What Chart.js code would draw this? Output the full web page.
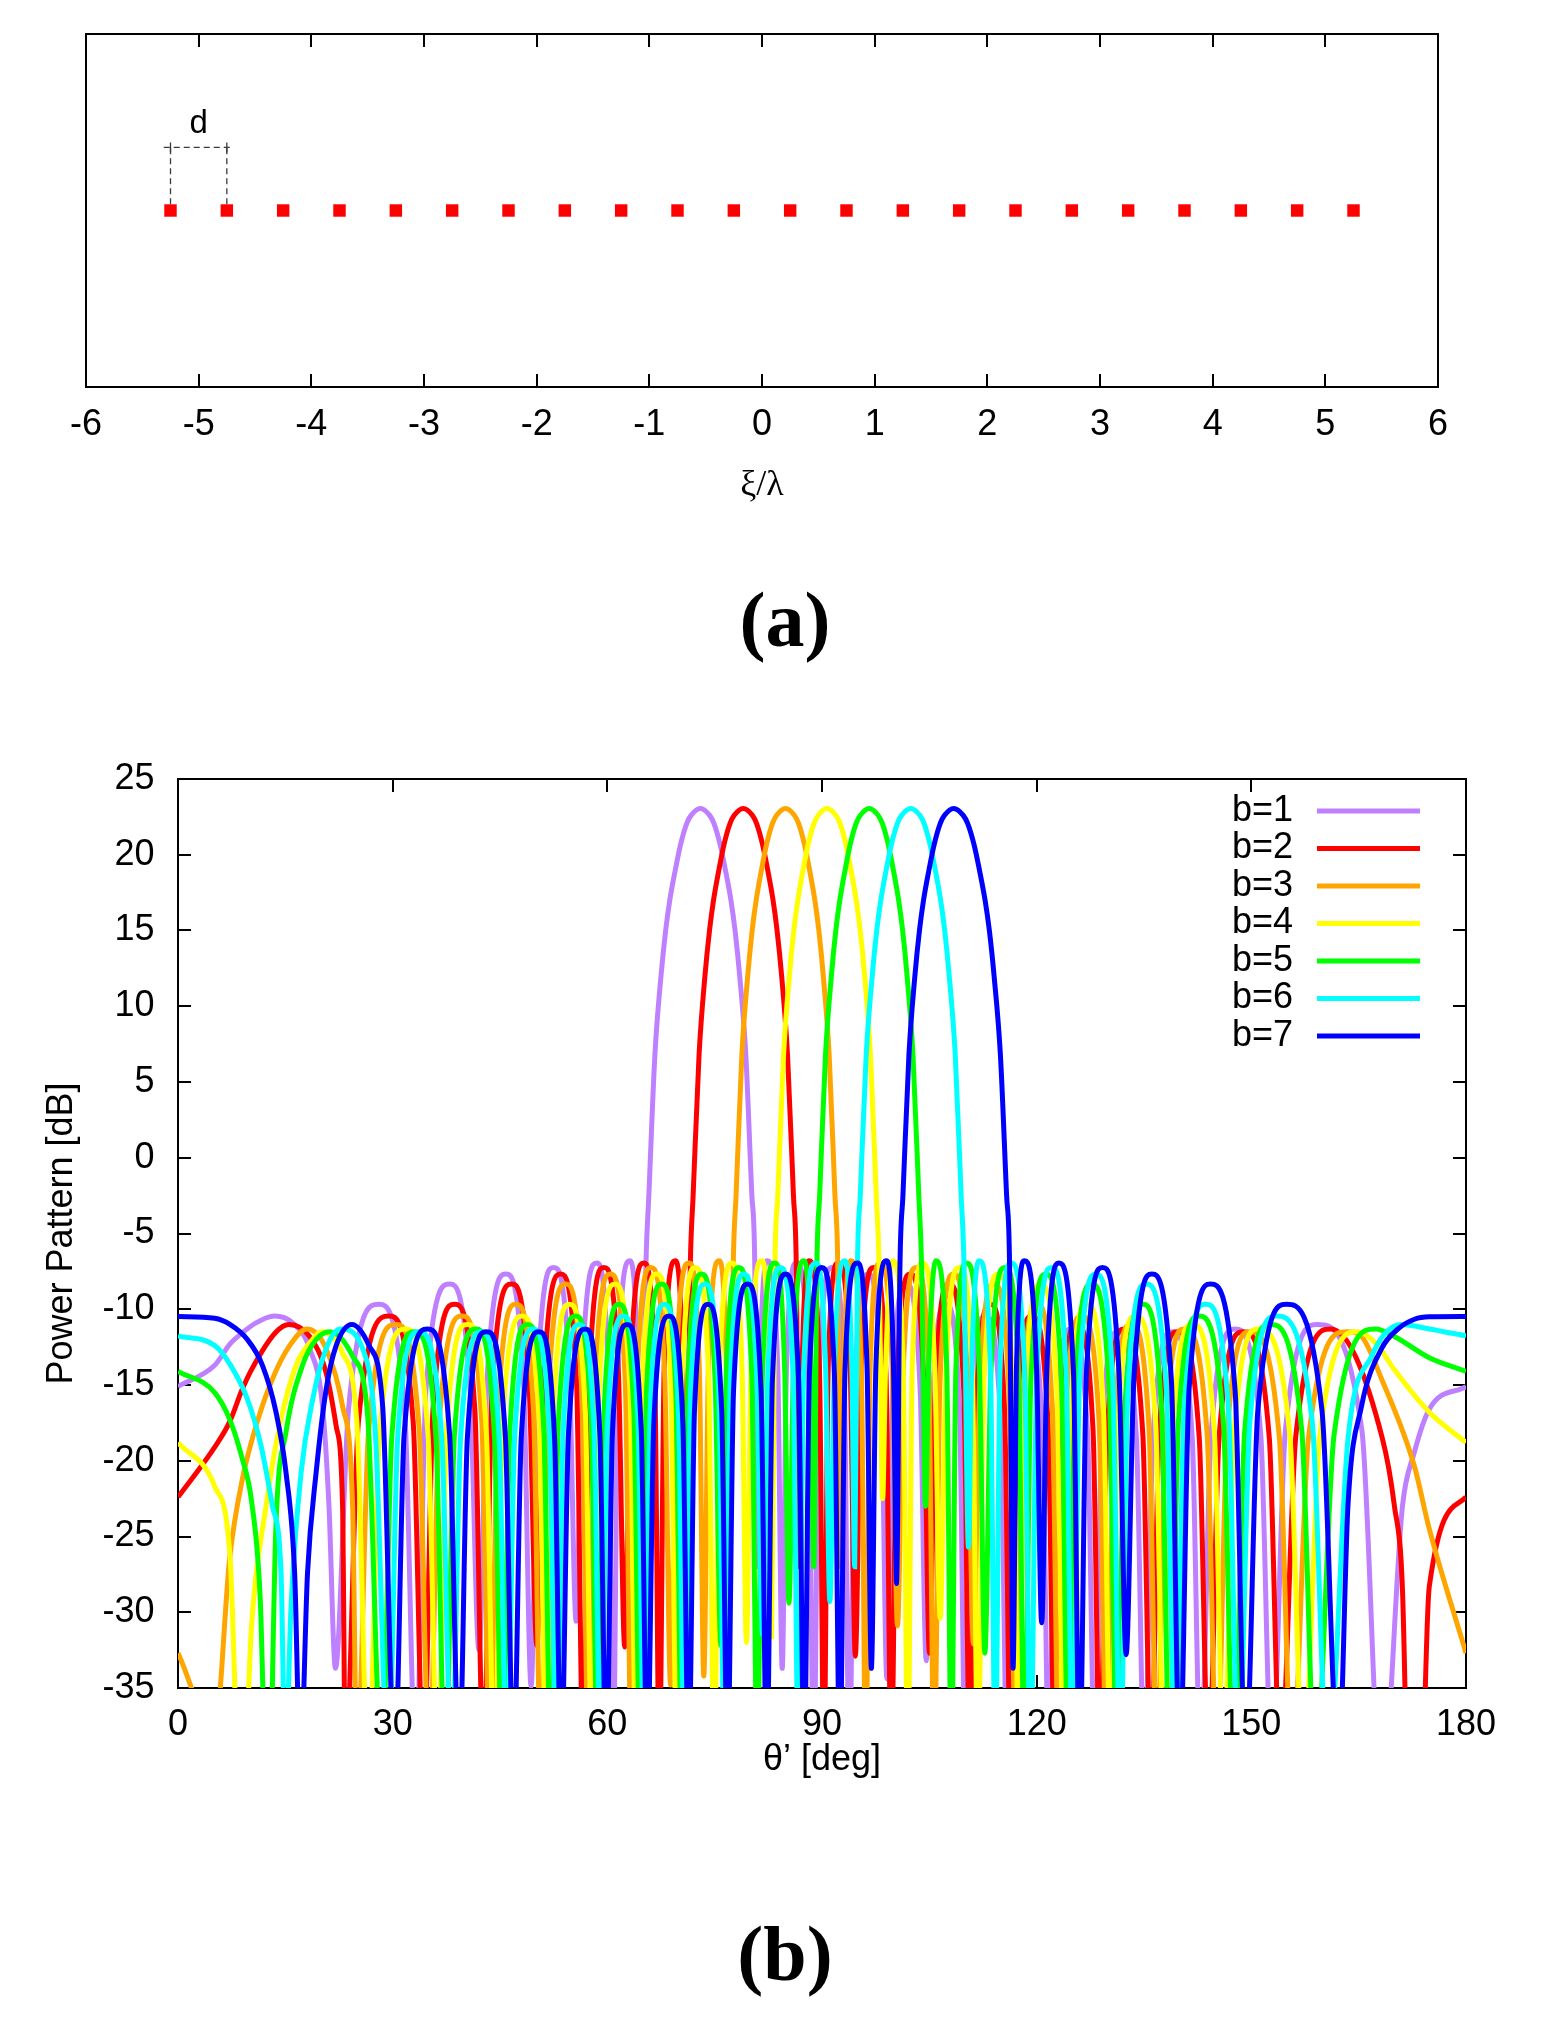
<!DOCTYPE html>
<html>
<head>
<meta charset="utf-8">
<title>Linear array and power patterns</title>
<script src="https://cdn.jsdelivr.net/npm/chart.js@4.4.1/dist/chart.umd.min.js"></script>
<style>
  html, body { margin: 0; padding: 0; background: #fff; }
  body { position: relative; width: 1552px; height: 2040px; overflow: hidden; }
  canvas { position: absolute; left: 0; }
  #arrayChart { top: 0; }
  #patternChart { top: 700px; }
  .panel-label {
    position: absolute; left: 9px; width: 1552px; height: 80px;
    text-align: center; color: #000;
    font-family: "Liberation Serif", "Times New Roman", serif;
    font-weight: bold; font-size: 78px; line-height: 80px;
  }
</style>
</head>
<body>
<canvas id="arrayChart" width="1552" height="560"></canvas>
<div class="panel-label" style="top:580px">(a)</div>
<canvas id="patternChart" width="1552" height="1120"></canvas>
<div class="panel-label" style="top:1914px">(b)</div>

<script>
// (a) element layout, in units of wavelength
const elementPositions = [-5.25, -4.75, -4.25, -3.75, -3.25, -2.75, -2.25, -1.75, -1.25, -0.75, -0.25,
                          0.25, 0.75, 1.25, 1.75, 2.25, 2.75, 3.25, 3.75, 4.25, 4.75, 5.25];
const elementRow = [0, 0, 0, 0, 0, 0, 0, 0, 0, 0, 0, 0, 0, 0, 0, 0, 0, 0, 0, 0, 0, 0];
const spacingEnds = [-5.25, -4.75];
const spacingArrow = [-5.31, -5.25, -4.75, -4.69];
const spacingHeight = [0.035, 0.3575];
const spacingLabel = ['d', -5.0, 0.49];
const xiTicks = [-6, 6, 1];

// (b) power patterns, [theta deg, dB]
const thetaTicks = [0, 180, 30];
const dbTicks = [-35, 25, 5];
const beamLabels = ['b=1', 'b=2', 'b=3', 'b=4', 'b=5', 'b=6', 'b=7'];
const beamColors = ['#bf80ff', '#ff0000', '#ffa500', '#ffff00', '#00ff00', '#00ffff', '#0000ff'];

const b1Pattern = [
  [0,-15.1],[5.13,-13.7],[7.25,-12.3],[8.88,-11.6],[10.9,-10.9],[13.49,-10.45],[16.0,-10.9],[18.4,-12.6],[20.2,-16.4],[21.1,-23.0],[22.0,-33.7],
  [23.82,-16.67],[28.06,-9.67],[31.68,-16.67],[33.23,-40],
  [34.65,-15.34],[37.95,-8.34],[40.83,-15.34],[42.06,-32.5],
  [43.19,-14.68],[45.82,-7.68],[48.29,-14.68],[49.35,-34.9],
  [50.29,-14.24],[52.49,-7.24],[54.70,-14.24],[55.64,-30.6],
  [56.50,-13.95],[58.51,-6.95],[60.11,-13.95],[60.80,-40],
  [61.51,-13.8],[63.16,-6.8],[64.24,-13.8],[64.70,-27],
  [65.4,-7],[65.8,-2.5],[66.65,6.8],[67.5,12.0],[68.15,15.0],[68.73,17.0],[69.5,19.0],[70.25,20.7],[71.1,22.07],[71.7,22.6],[73.0,23.06],
  [74.3,22.6],[74.9,22.07],[75.75,20.7],[76.5,19.0],[77.27,17.0],[77.85,15.0],[78.5,12.0],[79.35,6.8],[80.2,-2.5],[80.6,-7],
  [80.94,-27],
  [81.36,-13.8],[82.33,-6.8],[83.81,-13.8],[84.44,-33.7],
  [85.03,-13.95],[86.42,-6.95],[88.11,-13.95],[88.83,-40],
  [89.60,-14.24],[91.38,-7.24],[93.09,-14.24],[93.82,-40],
  [94.61,-14.68],[96.44,-7.68],[98.28,-14.68],[99.07,-34.4],
  [99.87,-15.34],[101.75,-8.34],[103.72,-15.34],[104.57,-33.2],
  [105.39,-16.67],[107.31,-9.67],[109.22,-16.67],[110.04,-40],
  [110.87,-17.45],[112.81,-10.45],[114.97,-17.45],[115.89,-40],
  [116.74,-18.0],[118.72,-11.0],[120.81,-18.0],[121.71,-40],
  [122.62,-18.3],[124.73,-11.3],[127.12,-18.3],[128.14,-40],
  [129.10,-18.48],[131.35,-11.48],[133.94,-18.48],[135.05,-40],
  [136.24,-18.48],[139.0,-11.48],[141.74,-18.48],[142.91,-40],
  [144.36,-18.3],[147.75,-11.3],[151.32,-18.3],[152.85,-40],
  [154.76,-18.0],[159.21,-11.0],[165.45,-18.0],[168.2,-42],
  [171.12,-23.0],[172.75,-19.5],[174.87,-16.6],[180,-15.1]
];

const b2Pattern = [
  [0,-22.4],[5.13,-19.1],[7.25,-17.4],[8.88,-15.4],[10.26,-14.0],[13.7,-11.5],[15.5,-11.0],[18.4,-11.8],[20.7,-14.2],[22.1,-17.7],[23.0,-23.0],[23.4,-40],
  [25.21,-17.45],[29.5,-10.45],[32.87,-17.45],[34.32,-40],
  [35.63,-16.67],[38.67,-9.67],[41.49,-16.67],[42.70,-40],
  [43.88,-15.34],[46.62,-8.34],[49.09,-15.34],[50.15,-32.2],
  [51.14,-14.68],[53.46,-7.68],[55.69,-14.68],[56.64,-40],
  [57.50,-14.24],[59.51,-7.24],[61.55,-14.24],[62.43,-32.3],
  [63.23,-13.95],[65.11,-6.95],[66.62,-13.95],[67.27,-40],
  [67.95,-13.8],[69.53,-6.8],[70.54,-13.8],[70.98,-27],
  [71.60,-7],[71.99,-2.5],[72.82,6.8],[73.64,12.0],[74.28,15.0],[74.84,17.0],[75.59,19.0],[76.32,20.7],[77.15,22.07],[77.73,22.6],[79.0,23.06],
  [80.27,22.6],[80.85,22.07],[81.68,20.7],[82.41,19.0],[83.16,17.0],[83.72,15.0],[84.36,12.0],[85.18,6.8],[86.01,-2.5],[86.40,-7],
  [86.81,-27],
  [87.22,-13.8],[88.18,-6.8],[89.64,-13.8],[90.27,-40],
  [90.86,-13.95],[92.25,-6.95],[93.94,-13.95],[94.66,-32.9],
  [95.43,-14.24],[97.22,-7.24],[98.94,-14.24],[99.68,-40],
  [100.48,-14.68],[102.34,-7.68],[104.22,-14.68],[105.02,-32.7],
  [105.85,-15.34],[107.77,-8.34],[109.81,-15.34],[110.68,-40],
  [111.54,-16.67],[113.53,-9.67],[115.52,-16.67],[116.37,-40],
  [117.25,-17.45],[119.29,-10.45],[121.58,-17.45],[122.56,-40],
  [123.48,-18.0],[125.61,-11.0],[127.88,-18.0],[128.85,-40],
  [129.84,-18.3],[132.16,-11.3],[134.84,-18.3],[135.99,-40],
  [137.09,-18.48],[139.66,-11.48],[142.72,-18.48],[144.03,-40],
  [145.49,-18.48],[148.90,-11.48],[152.51,-18.48],[154.06,-40],
  [156.23,-18.3],[161.1,-11.3],[168.3,-18.5],[170.0,-23.0],[171.12,-28.5],[172.75,-60],[174.87,-28.3],[180,-22.4]
];

const b3Pattern = [
  [0,-32.7],[5.13,-37.8],[7.25,-26.3],[9.0,-21.2],[10.9,-17.7],[13.2,-14.6],[15.6,-12.4],[18.03,-11.3],[20.7,-12.6],[23.0,-16.4],[24.4,-23.0],[25.0,-40],
  [26.64,-18.0],[30.46,-11.0],[33.72,-18.0],[35.12,-40],
  [36.51,-17.45],[39.74,-10.45],[42.46,-17.45],[43.62,-40],
  [44.71,-16.67],[47.24,-9.67],[49.68,-16.67],[50.73,-40],
  [51.77,-15.34],[54.20,-8.34],[56.43,-15.34],[57.39,-40],
  [58.30,-14.68],[60.43,-7.68],[62.50,-14.68],[63.39,-40],
  [64.20,-14.24],[66.08,-7.24],[68.01,-14.24],[68.84,-34.8],
  [69.61,-13.95],[71.40,-6.95],[72.86,-13.95],[73.48,-34.2],
  [74.13,-13.8],[75.65,-6.8],[76.64,-13.8],[77.06,-27],
  [77.60,-7],[77.99,-2.5],[78.80,6.8],[79.62,12.0],[80.24,15.0],[80.80,17.0],[81.54,19.0],[82.26,20.7],[83.08,22.07],[83.65,22.6],[84.9,23.06],
  [86.15,22.6],[86.72,22.07],[87.54,20.7],[88.26,19.0],[89.00,17.0],[89.56,15.0],[90.18,12.0],[91.00,6.8],[91.81,-2.5],[92.20,-7],
  [92.64,-27],
  [93.05,-13.8],[94.02,-6.8],[95.49,-13.8],[96.12,-40],
  [96.72,-13.95],[98.11,-6.95],[99.82,-13.95],[100.55,-30.9],
  [101.33,-14.24],[103.16,-7.24],[104.92,-14.24],[105.67,-40],
  [106.49,-14.68],[108.40,-7.68],[110.34,-14.68],[111.17,-32.1],
  [112.03,-15.34],[114.02,-8.34],[116.15,-15.34],[117.07,-40],
  [117.97,-16.67],[120.07,-9.67],[122.19,-16.67],[123.10,-40],
  [124.04,-17.45],[126.24,-10.45],[128.73,-17.45],[129.80,-40],
  [130.81,-18.0],[133.17,-11.0],[135.72,-18.0],[136.82,-40],
  [137.97,-18.3],[140.64,-11.3],[143.83,-18.3],[145.20,-40],
  [146.58,-18.48],[149.79,-11.48],[153.92,-18.48],[155.69,-40],
  [157.99,-18.48],[163.36,-11.48],[165.4,-11.8],[168.2,-14.6],[172.75,-20.3],[174.87,-24.5],[180,-32.7]
];

const b4Pattern = [
  [0,-18.8],[5.13,-21.7],[7.25,-26.2],[8.88,-45],[10.26,-31],[12.3,-23.0],[14.2,-17.7],[16.5,-13.7],[18.8,-12.0],[20.0,-11.48],[23.0,-12.9],[25.0,-17.5],[26.6,-40],
  [28.16,-18.3],[31.79,-11.3],[34.95,-18.3],[36.30,-40],
  [37.55,-18.0],[40.46,-11.0],[43.08,-18.0],[44.21,-40],
  [45.38,-17.45],[48.10,-10.45],[50.47,-17.45],[51.48,-40],
  [52.45,-16.67],[54.70,-9.67],[56.92,-16.67],[57.87,-40],
  [58.83,-15.34],[61.07,-8.34],[63.15,-15.34],[64.04,-40],
  [64.90,-14.68],[66.90,-7.68],[68.87,-14.68],[69.71,-40],
  [70.48,-14.24],[72.28,-7.24],[74.14,-14.24],[74.94,-40],
  [75.68,-13.95],[77.42,-6.95],[78.83,-13.95],[79.44,-32.0],
  [80.08,-13.8],[81.56,-6.8],[82.53,-13.8],[82.95,-31.6],
  [83.43,-7],[83.82,-2.5],[84.63,6.8],[85.44,12.0],[86.06,15.0],[86.62,17.0],[87.35,19.0],[88.07,20.7],[88.88,22.07],[89.46,22.6],[90.7,23.06],
  [91.94,22.6],[92.52,22.07],[93.33,20.7],[94.05,19.0],[94.78,17.0],[95.34,15.0],[95.96,12.0],[96.77,6.8],[97.58,-2.5],[97.97,-7],
  [98.47,-22.5],
  [98.89,-13.8],[99.86,-6.8],[101.35,-13.8],[101.99,-40],
  [102.60,-13.95],[104.02,-6.95],[105.76,-13.95],[106.51,-30.4],
  [107.31,-14.24],[109.19,-7.24],[111.01,-14.24],[111.79,-40],
  [112.64,-14.68],[114.63,-7.68],[116.66,-14.68],[117.53,-40],
  [118.44,-15.34],[120.55,-8.34],[122.82,-15.34],[123.79,-40],
  [124.76,-16.67],[127.03,-9.67],[129.34,-16.67],[130.33,-40],
  [131.37,-17.45],[133.81,-10.45],[136.62,-17.45],[137.83,-40],
  [139.01,-18.0],[141.75,-11.0],[144.82,-18.0],[146.13,-40],
  [147.58,-18.3],[150.97,-11.3],[155.38,-18.3],[157.27,-40],
  [159.54,-18.48],[164.84,-11.48],[167.5,-12.3],[170.0,-14.0],[174.87,-16.8],[180,-18.8]
];

const b5Pattern = [
  [0,-14.1],[5.13,-15.5],[7.25,-17.3],[8.88,-19.7],[10.26,-22.6],[11.48,-29.0],[12.57,-45],[13.7,-24.1],[15.1,-18.1],[17.4,-13.7],[19.3,-12.0],[21.18,-11.48],[24.4,-13.1],[26.5,-17.0],[28.5,-40],
  [29.87,-18.48],[33.06,-11.48],[36.05,-18.48],[37.33,-40],
  [38.63,-18.3],[41.65,-11.3],[44.22,-18.3],[45.32,-40],
  [46.38,-18.0],[48.84,-11.0],[51.13,-18.0],[52.11,-40],
  [53.15,-17.45],[55.59,-10.45],[57.74,-17.45],[58.66,-40],
  [59.55,-16.67],[61.63,-9.67],[63.70,-16.67],[64.59,-40],
  [65.49,-15.34],[67.60,-8.34],[69.57,-15.34],[70.42,-40],
  [71.25,-14.68],[73.17,-7.68],[75.06,-14.68],[75.87,-32.2],
  [76.62,-14.24],[78.37,-7.24],[80.18,-14.24],[80.96,-40],
  [81.69,-13.95],[83.39,-6.95],[84.78,-13.95],[85.38,-29.4],
  [86.01,-13.8],[87.47,-6.8],[88.44,-13.8],[88.85,-27],
  [89.29,-7],[89.67,-2.5],[90.49,6.8],[91.31,12.0],[91.93,15.0],[92.49,17.0],[93.23,19.0],[93.95,20.7],[94.77,22.07],[95.35,22.6],[96.6,23.06],
  [97.85,22.6],[98.43,22.07],[99.25,20.7],[99.97,19.0],[100.71,17.0],[101.27,15.0],[101.89,12.0],[102.71,6.8],[103.53,-2.5],[103.91,-7],
  [104.47,-23.0],
  [104.90,-13.8],[105.90,-6.8],[107.43,-13.8],[108.08,-40],
  [108.71,-13.95],[110.18,-6.95],[111.99,-13.95],[112.76,-32.7],
  [113.60,-14.24],[115.56,-7.24],[117.47,-14.24],[118.29,-40],
  [119.19,-14.68],[121.29,-7.68],[123.47,-14.68],[124.40,-40],
  [125.38,-15.34],[127.66,-8.34],[130.15,-15.34],[131.22,-40],
  [132.30,-16.67],[134.83,-9.67],[137.46,-16.67],[138.59,-40],
  [139.81,-17.45],[142.65,-10.45],[146.09,-17.45],[147.56,-40],
  [149.08,-18.0],[152.64,-11.0],[157.05,-18.0],[158.94,-40],
  [161.56,-18.3],[167.4,-11.3],[170.0,-11.8],[174.87,-13.2],[180,-14.1]
];

const b6Pattern = [
  [0,-11.76],[5.13,-12.4],[7.4,-13.74],[9.7,-15.94],[11.6,-19.0],[13.2,-23.0],[14.4,-27.4],[15.0,-40],[15.8,-29.6],[17.2,-20.8],[18.8,-16.0],[20.7,-12.6],[22.7,-11.3],[25.8,-12.6],[27.6,-18.3],[29.4,-40],
  [30.7,-18.48],[33.65,-11.48],[36.86,-18.48],[38.24,-40],
  [39.49,-18.48],[42.41,-11.48],[44.89,-18.48],[45.95,-40],
  [47.06,-18.3],[49.66,-11.3],[51.92,-18.3],[52.89,-40],
  [53.84,-18.0],[56.06,-11.0],[58.15,-18.0],[59.05,-40],
  [60.02,-17.45],[62.27,-10.45],[64.29,-17.45],[65.15,-40],
  [65.99,-16.67],[67.96,-9.67],[69.93,-16.67],[70.77,-40],
  [71.64,-15.34],[73.66,-8.34],[75.57,-15.34],[76.39,-40],
  [77.19,-14.68],[79.06,-7.68],[80.91,-14.68],[81.70,-31.5],
  [82.44,-14.24],[84.16,-7.24],[85.95,-14.24],[86.72,-40],
  [87.44,-13.95],[89.12,-6.95],[90.51,-13.95],[91.10,-29.3],
  [91.73,-13.8],[93.19,-6.8],[94.16,-13.8],[94.57,-27],
  [94.96,-7],[95.35,-2.5],[96.18,6.8],[97.02,12.0],[97.65,15.0],[98.22,17.0],[98.97,19.0],[99.71,20.7],[100.54,22.07],[101.13,22.6],[102.4,23.06],
  [103.67,22.6],[104.26,22.07],[105.09,20.7],[105.83,19.0],[106.58,17.0],[107.15,15.0],[107.78,12.0],[108.62,6.8],[109.45,-2.5],[109.84,-7],
  [110.47,-25.7],
  [110.91,-13.8],[111.94,-6.8],[113.54,-13.8],[114.22,-40],
  [114.88,-13.95],[116.41,-6.95],[118.31,-13.95],[119.13,-40],
  [120.02,-14.24],[122.09,-7.24],[124.13,-14.24],[125.01,-40],
  [125.99,-14.68],[128.26,-7.68],[130.64,-14.68],[131.66,-40],
  [132.75,-15.34],[135.30,-8.34],[138.13,-15.34],[139.35,-40],
  [140.62,-16.67],[143.59,-9.67],[146.82,-16.67],[148.20,-40],
  [149.79,-17.45],[153.49,-10.45],[158.52,-17.45],[160.68,-40],
  [163.5,-18.6],[166.8,-13.1],[171.0,-11.0],[174.87,-11.3],[180,-11.76]
];

const b7Pattern = [
  [0,-10.48],[5.13,-10.6],[7.25,-11.0],[9.7,-12.0],[11.8,-13.7],[13.7,-16.8],[15.1,-20.8],[16.3,-27.4],[17.1,-40],[18.1,-27.4],[19.3,-20.8],[20.7,-15.3],[22.1,-12.4],[24.3,-11.0],[26.7,-12.4],[28.6,-16.4],[30.3,-40],
  [31.6,-18.3],[34.85,-11.3],[37.96,-18.3],[39.3,-40],
  [40.44,-18.48],[43.1,-11.48],[45.76,-18.48],[46.9,-40],
  [47.97,-18.48],[50.45,-11.48],[52.62,-18.48],[53.55,-40],
  [54.56,-18.3],[56.9,-11.3],[58.96,-18.3],[59.85,-40],
  [60.73,-18.0],[62.78,-11.0],[64.74,-18.0],[65.58,-40],
  [66.50,-17.45],[68.63,-10.45],[70.55,-17.45],[71.37,-40],
  [72.18,-16.67],[74.07,-9.67],[75.98,-16.67],[76.80,-40],
  [77.64,-15.34],[79.61,-8.34],[81.48,-15.34],[82.28,-40],
  [83.07,-14.68],[84.90,-7.68],[86.73,-14.68],[87.51,-40],
  [88.24,-14.24],[89.95,-7.24],[91.73,-14.24],[92.50,-40],
  [93.22,-13.95],[94.91,-6.95],[96.30,-13.95],[96.90,-33.7],
  [97.53,-13.8],[99.01,-6.8],[99.99,-13.8],[100.41,-28.1],
  [100.90,-7],[101.31,-2.5],[102.15,6.8],[102.98,12.0],[103.62,15.0],[104.19,17.0],[104.95,19.0],[105.69,20.7],[106.53,22.07],[107.12,22.6],[108.4,23.06],
  [109.74,22.6],[110.35,22.07],[111.23,20.7],[112.0,19.0],[112.79,17.0],[113.39,15.0],[114.05,12.0],[114.93,6.8],[115.80,-2.5],[116.21,-7],
  [116.7,-33.7],
  [117.18,-13.8],[118.3,-6.8],[119.98,-13.8],[120.7,-30.7],
  [121.42,-13.95],[123.1,-6.95],[125.13,-13.95],[126.0,-40],
  [126.96,-14.24],[129.2,-7.24],[131.51,-14.24],[132.5,-32.8],
  [133.58,-14.68],[136.1,-7.68],[138.83,-14.68],[140.0,-40],
  [141.29,-15.34],[144.3,-8.34],[147.73,-15.34],[149.2,-40],
  [150.91,-16.67],[154.9,-9.67],[159.87,-16.67],[162.2,-40],
  [163.5,-23.0],[165.4,-16.4],[168.2,-12.6],[170.5,-11.3],[172.8,-10.66],[174.87,-10.5],[180,-10.48]
];

const beamPatterns = [b1Pattern, b2Pattern, b3Pattern, b4Pattern, b5Pattern, b6Pattern, b7Pattern];

Chart.defaults.font.family = '"Liberation Sans", Arial, sans-serif';
Chart.defaults.font.size = 36;
Chart.defaults.color = '#000';

// gnuplot style frame: ticks point inward, no grid
function tickGrid() {
  return { display: true, drawOnChartArea: false, drawTicks: true, tickLength: -13, color: '#000', lineWidth: 2 };
}
function frameBorder() {
  return { display: true, color: '#000', width: 2 };
}

const spacingText = {
  id: 'spacingText',
  afterDatasetsDraw(chart) {
    const { ctx, scales } = chart;
    ctx.save();
    ctx.font = '33px "Liberation Sans", Arial, sans-serif';
    ctx.fillStyle = '#000';
    ctx.textAlign = 'center';
    ctx.textBaseline = 'middle';
    ctx.fillText(spacingLabel[0], scales.x.getPixelForValue(spacingLabel[1]), scales.y.getPixelForValue(spacingLabel[2]));
    ctx.restore();
  }
};

const keyRows = {
  id: 'keyRows',
  afterDraw(chart) {
    const { ctx, chartArea } = chart;
    ctx.save();
    ctx.font = '36px "Liberation Sans", Arial, sans-serif';
    ctx.textAlign = 'right';
    ctx.textBaseline = 'middle';
    chart.data.datasets.forEach((ds, i) => {
      const y = chartArea.top + 32 + i * 37.5;
      ctx.fillStyle = '#000';
      ctx.fillText(ds.label, chartArea.right - 173, y);
      ctx.strokeStyle = ds.borderColor;
      ctx.lineWidth = 5;
      ctx.beginPath();
      ctx.moveTo(chartArea.right - 149, y);
      ctx.lineTo(chartArea.right - 46, y);
      ctx.stroke();
    });
    ctx.restore();
  }
};

const dash = '#3a3a3a';

new Chart(document.getElementById('arrayChart'), {
  type: 'line',
  data: {
    datasets: [
      {
        label: 'elements',
        data: elementPositions.map((x, i) => ({ x, y: elementRow[i] })),
        showLine: false,
        pointStyle: 'rect',
        pointRadius: 8.8,
        pointBackgroundColor: '#ff0000',
        pointBorderWidth: 0,
        borderColor: '#ff0000'
      },
      {
        label: 'spacing left',
        data: [{ x: spacingEnds[0], y: spacingHeight[0] }, { x: spacingEnds[0], y: spacingHeight[1] }],
        borderColor: dash, borderWidth: 1.3, borderDash: [6, 4], pointRadius: 0
      },
      {
        label: 'spacing right',
        data: [{ x: spacingEnds[1], y: spacingHeight[0] }, { x: spacingEnds[1], y: spacingHeight[1] }],
        borderColor: dash, borderWidth: 1.3, borderDash: [6, 4], pointRadius: 0
      },
      {
        label: 'spacing arrow',
        data: spacingArrow.map(x => ({ x, y: spacingHeight[1] })),
        borderColor: dash, borderWidth: 1.3, borderDash: [6, 4],
        pointStyle: 'line', rotation: 90, pointRadius: [0, 5, 5, 0],
        pointBorderColor: dash, pointBorderWidth: 1.3
      }
    ]
  },
  options: {
    responsive: false,
    animation: false,
    devicePixelRatio: 1,
    events: [],
    layout: { padding: { left: 0, right: 0, top: 0, bottom: 53 } },
    plugins: { legend: { display: false }, tooltip: { enabled: false } },
    scales: {
      x: {
        type: 'linear', position: 'bottom', min: xiTicks[0], max: xiTicks[1],
        ticks: { stepSize: xiTicks[2], padding: 29.4, autoSkip: false, maxRotation: 0 },
        grid: tickGrid(), border: frameBorder(),
        title: { display: true, text: 'ξ/λ', font: { family: '"Liberation Serif", "Times New Roman", serif', size: 36 }, padding: { top: 0, bottom: 0 } },
        afterFit: s => { s.height = 120; }
      },
      xTop: {
        type: 'linear', position: 'top', min: xiTicks[0], max: xiTicks[1],
        ticks: { stepSize: xiTicks[2], display: false, autoSkip: false },
        grid: tickGrid(), border: frameBorder(),
        afterFit: s => { s.height = 34; }
      },
      y: {
        type: 'linear', position: 'left', min: -1, max: 1,
        ticks: { display: false }, grid: { display: false }, border: frameBorder(),
        afterFit: s => { s.width = 86; }
      },
      yRight: {
        type: 'linear', position: 'right', min: -1, max: 1,
        ticks: { display: false }, grid: { display: false }, border: frameBorder(),
        afterFit: s => { s.width = 114; }
      }
    }
  },
  plugins: [spacingText]
});

new Chart(document.getElementById('patternChart'), {
  type: 'line',
  data: {
    datasets: beamPatterns.map((pts, i) => ({
      label: beamLabels[i],
      data: pts.map(([x, y]) => ({ x, y })),
      borderColor: beamColors[i],
      backgroundColor: beamColors[i],
      borderWidth: 5,
      pointRadius: 0,
      cubicInterpolationMode: 'monotone',
      clip: 0,
      order: beamPatterns.length - i
    }))
  },
  options: {
    responsive: false,
    animation: false,
    devicePixelRatio: 1,
    events: [],
    layout: { padding: { left: 0, right: 0, top: 0, bottom: 32 } },
    plugins: { legend: { display: false }, tooltip: { enabled: false } },
    scales: {
      x: {
        type: 'linear', position: 'bottom', min: thetaTicks[0], max: thetaTicks[1], z: 1,
        ticks: { stepSize: thetaTicks[2], padding: 28.4, autoSkip: false, maxRotation: 0 },
        grid: tickGrid(), border: frameBorder(),
        title: { display: true, text: 'θ’ [deg]', padding: { top: 0, bottom: 6.4 } },
        afterFit: s => { s.height = 100; }
      },
      xTop: {
        type: 'linear', position: 'top', min: thetaTicks[0], max: thetaTicks[1], z: 1,
        ticks: { stepSize: thetaTicks[2], display: false, autoSkip: false },
        grid: tickGrid(), border: frameBorder(),
        afterFit: s => { s.height = 79; }
      },
      y: {
        type: 'linear', position: 'left', min: dbTicks[0], max: dbTicks[1], z: 1,
        ticks: { stepSize: dbTicks[2], padding: 36.5, autoSkip: false },
        grid: tickGrid(), border: frameBorder(),
        title: { display: true, text: 'Power Pattern [dB]', padding: { top: 40.4, bottom: 0 } },
        afterFit: s => { s.width = 178; }
      },
      yRight: {
        type: 'linear', position: 'right', min: dbTicks[0], max: dbTicks[1], z: 1,
        ticks: { stepSize: dbTicks[2], display: false, autoSkip: false },
        grid: tickGrid(), border: frameBorder(),
        afterFit: s => { s.width = 86; }
      }
    }
  },
  plugins: [keyRows]
});
</script>
</body>
</html>
